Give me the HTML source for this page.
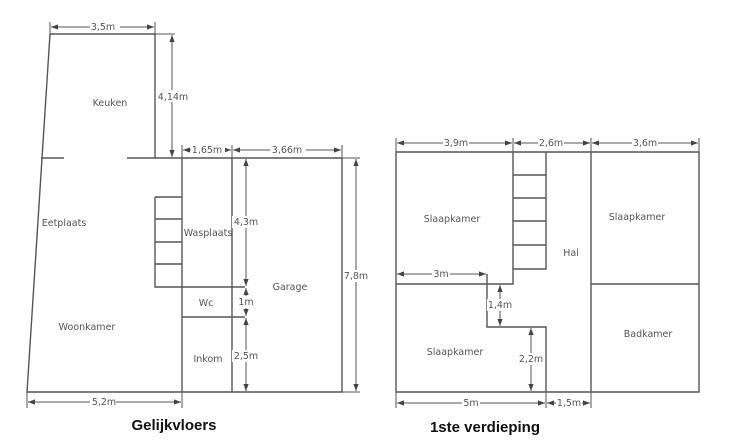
<!DOCTYPE html>
<html><head><meta charset="utf-8"><style>
html,body{margin:0;padding:0;background:#fff;}
svg{display:block;}
text{font-family:"DejaVu Sans","Liberation Sans",sans-serif;font-size:9.5px;fill:#555;}
.t{font-family:"Liberation Sans",sans-serif;font-weight:bold;font-size:15px;fill:#111;}
</style></head><body>
<svg width="736" height="448" viewBox="0 0 736 448" xmlns="http://www.w3.org/2000/svg">
<defs>
<marker id="a" viewBox="0 0 8 8" refX="8" refY="4" markerWidth="7" markerHeight="7" orient="auto-start-reverse" markerUnits="userSpaceOnUse"><path d="M0,1 L8,4 L0,7 z" fill="#444"/></marker>
</defs>
<g stroke="#555" stroke-width="1.4" fill="none">
<!-- left plan -->
<path d="M50,34 L155,34 L155,158"/>
<path d="M50,34 L27,392 L342,392 L342,158 L182,158 L182,392"/>
<path d="M127,158 L182,158"/>
<path d="M41,158 L64,158"/>
<path d="M232,158 L232,392"/>
<path d="M155,197 L182,197 M155,219 L182,219 M155,242 L182,242 M155,264 L182,264 M155,197 L155,287 L245,287"/>
<path d="M182,317 L245,317"/>
<!-- extension lines -->
<path d="M155,34 L175,34 M342,158 L360,158 M342,392 L360,392 M232,392 L250,392" stroke-width="1"/>
<path d="M50,22 L50,34 M155,22 L155,34 M182,145 L182,158 M232,145 L232,158 M342,145 L342,158 M27,392 L27,408 M182,392 L182,408" stroke-width="1"/>
<!-- right plan -->
<path d="M396,152 L699,152 L699,392 L396,392 Z"/>
<path d="M513,152 L513,284 L396,284"/>
<path d="M546,152 L546,269 L513,269"/>
<path d="M513,175 L546,175 M513,198 L546,198 M513,221 L546,221 M513,245 L546,245"/>
<path d="M591,152 L591,392 M591,284 L699,284"/>
<path d="M487,274 L487,327 L546,327 L546,392"/>
<path d="M396,138 L396,152 M513,138 L513,152 M591,138 L591,152 M699,138 L699,152 M396,392 L396,408 M546,392 L546,408 M591,392 L591,408" stroke-width="1"/>
</g>
<g stroke="#555" stroke-width="1" fill="none" marker-start="url(#a)" marker-end="url(#a)">
<line x1="51" y1="27" x2="154" y2="27"/>
<line x1="172" y1="35" x2="172" y2="157"/>
<line x1="183" y1="150" x2="231" y2="150"/>
<line x1="233" y1="150" x2="341" y2="150"/>
<line x1="246" y1="159" x2="246" y2="286"/>
<line x1="246" y1="288" x2="246" y2="316"/>
<line x1="246" y1="318" x2="246" y2="391"/>
<line x1="356" y1="159" x2="356" y2="391"/>
<line x1="28" y1="402" x2="181" y2="402"/>
<line x1="397" y1="143" x2="512" y2="143"/>
<line x1="514" y1="143" x2="590" y2="143"/>
<line x1="592" y1="143" x2="698" y2="143"/>
<line x1="397" y1="274" x2="486" y2="274"/>
<line x1="500" y1="285" x2="500" y2="326"/>
<line x1="531" y1="328" x2="531" y2="391"/>
<line x1="397" y1="403" x2="545" y2="403"/>
<line x1="547" y1="403" x2="590" y2="403"/>
</g>
<g text-anchor="middle">
<rect x="90" y="21" width="30" height="12" fill="#fff"/><text x="103" y="30">3,5m</text>
<rect x="158" y="90" width="30" height="12" fill="#fff"/><text x="173" y="100">4,14m</text>
<rect x="191" y="144" width="34" height="12" fill="#fff"/><text x="207" y="153">1,65m</text>
<rect x="270" y="144" width="36" height="12" fill="#fff"/><text x="287" y="153">3,66m</text>
<rect x="232" y="216" width="28" height="12" fill="#fff"/><text x="246" y="225">4,3m</text>
<rect x="238" y="296" width="16" height="12" fill="#fff"/><text x="246" y="305">1m</text>
<rect x="232" y="350" width="28" height="12" fill="#fff"/><text x="246" y="359">2,5m</text>
<rect x="343" y="270" width="26" height="12" fill="#fff"/><text x="356" y="279">7,8m</text>
<rect x="90" y="396" width="26" height="12" fill="#fff"/><text x="104" y="405">5,2m</text>
<text x="110" y="106">Keuken</text>
<text x="64" y="226">Eetplaats</text>
<text x="208" y="236">Wasplaats</text>
<text x="206" y="306">Wc</text>
<text x="290" y="290">Garage</text>
<text x="87" y="330">Woonkamer</text>
<text x="208" y="362">Inkom</text>
<text class="t" x="174" y="430">Gelijkvloers</text>

<rect x="443" y="137" width="26" height="12" fill="#fff"/><text x="456" y="146">3,9m</text>
<rect x="538" y="137" width="26" height="12" fill="#fff"/><text x="551" y="146">2,6m</text>
<rect x="632" y="137" width="26" height="12" fill="#fff"/><text x="645" y="146">3,6m</text>
<rect x="432" y="268" width="18" height="12" fill="#fff"/><text x="441" y="277">3m</text>
<rect x="487" y="299" width="26" height="12" fill="#fff"/><text x="500" y="308">1,4m</text>
<rect x="518" y="353" width="26" height="12" fill="#fff"/><text x="531" y="362">2,2m</text>
<rect x="462" y="397" width="18" height="12" fill="#fff"/><text x="471" y="406">5m</text>
<rect x="556" y="397" width="26" height="12" fill="#fff"/><text x="569" y="406">1,5m</text>
<text x="452" y="222">Slaapkamer</text>
<text x="637" y="220">Slaapkamer</text>
<text x="571" y="256">Hal</text>
<text x="455" y="355">Slaapkamer</text>
<text x="648" y="337">Badkamer</text>
<text class="t" x="485" y="432">1ste verdieping</text>
</g>
</svg>
</body></html>
